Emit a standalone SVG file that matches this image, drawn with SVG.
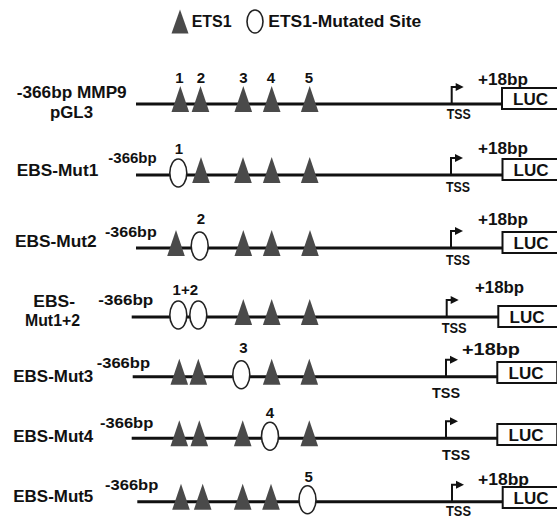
<svg xmlns="http://www.w3.org/2000/svg" xmlns:xlink="http://www.w3.org/1999/xlink" width="557" height="518" viewBox="0 0 557 518">
<style>
text{font-family:"Liberation Sans",Arial,sans-serif;font-weight:bold;fill:#111;}
.lbl{font-size:17px;}
.bp{font-size:15.5px;}
.num{font-size:15px;text-anchor:middle;}
.plus{font-size:17px;}
.tss{font-size:14px;}
.luc{font-size:16px;text-anchor:middle;}
.dna{stroke:#111;stroke-width:3;fill:none;}
.box{fill:#fff;stroke:#111;stroke-width:2;}
.ets{fill:#4a4a4a;}
.mut{fill:#fff;stroke:#222;stroke-width:1.6;}
.arr{stroke:#111;stroke-width:2;fill:none;}
</style>
<defs>
<path id="tri" class="ets" d="M0,-18 L8.8,8 L-8.8,8 Z"/>
<ellipse id="ell" class="mut" cx="0" cy="-2" rx="8.5" ry="14"/>
<g id="tssArrow">
<path class="arr" d="M0,0 V-17 H6"/>
<path d="M4,-21 L12,-17 L4,-13 Z" fill="#111"/>
</g>
</defs>

<g id="legend">
<path class="ets" d="M180,9.5 L188.5,33.5 L171.5,33.5 Z"/>
<text x="191.7" y="27" style="font-size:16px" textLength="40" lengthAdjust="spacingAndGlyphs">ETS1</text>
<ellipse class="mut" cx="255" cy="21.5" rx="8" ry="11.5"/>
<text x="268.3" y="27" style="font-size:16px" textLength="153" lengthAdjust="spacingAndGlyphs">ETS1-Mutated Site</text>
</g>

<g id="row-wt">
<text class="lbl" x="16.7" y="97.7" textLength="110" lengthAdjust="spacingAndGlyphs">-366bp MMP9</text>
<text class="lbl" x="50" y="118" textLength="43" lengthAdjust="spacingAndGlyphs">pGL3</text>
<line class="dna" x1="136" y1="104" x2="503" y2="104"/>
<use xlink:href="#tri" x="180.3" y="104"/>
<use xlink:href="#tri" x="200.5" y="104"/>
<use xlink:href="#tri" x="243.3" y="104"/>
<use xlink:href="#tri" x="271.7" y="104"/>
<use xlink:href="#tri" x="309.7" y="104"/>
<text class="num" x="179.5" y="83">1</text>
<text class="num" x="201" y="83">2</text>
<text class="num" x="243.3" y="83">3</text>
<text class="num" x="271" y="83">4</text>
<text class="num" x="309" y="83">5</text>
<use xlink:href="#tssArrow" x="451.7" y="104"/>
<text class="tss" x="446.7" y="119" textLength="24" lengthAdjust="spacingAndGlyphs">TSS</text>
<text class="plus" x="478" y="85" textLength="50" lengthAdjust="spacingAndGlyphs">+18bp</text>
<rect class="box" x="502" y="88" width="60" height="21"/>
<text class="luc" x="530.5" y="105" textLength="35" lengthAdjust="spacingAndGlyphs">LUC</text>
</g>

<g id="row-mut1">
<text class="lbl" x="16.7" y="175.7" textLength="81.6" lengthAdjust="spacingAndGlyphs">EBS-Mut1</text>
<text class="bp" x="108.3" y="163.3" textLength="48.4" lengthAdjust="spacingAndGlyphs">-366bp</text>
<line class="dna" x1="136" y1="175" x2="503" y2="175"/>
<use xlink:href="#ell" x="178.3" y="175"/>
<use xlink:href="#tri" x="201" y="175"/>
<use xlink:href="#tri" x="243" y="175"/>
<use xlink:href="#tri" x="271.7" y="175"/>
<use xlink:href="#tri" x="309.7" y="175"/>
<text class="num" x="179" y="154">1</text>
<use xlink:href="#tssArrow" x="451" y="175"/>
<text class="tss" x="446" y="192" textLength="24" lengthAdjust="spacingAndGlyphs">TSS</text>
<text class="plus" x="478" y="154" textLength="50" lengthAdjust="spacingAndGlyphs">+18bp</text>
<rect class="box" x="502.5" y="159" width="60" height="21"/>
<text class="luc" x="531" y="176" textLength="35" lengthAdjust="spacingAndGlyphs">LUC</text>
</g>

<g id="row-mut2">
<text class="lbl" x="15" y="247.3" textLength="81.7" lengthAdjust="spacingAndGlyphs">EBS-Mut2</text>
<text class="bp" x="105" y="236.7" textLength="51.7" lengthAdjust="spacingAndGlyphs">-366bp</text>
<line class="dna" x1="136" y1="248" x2="503" y2="248"/>
<use xlink:href="#tri" x="176" y="248"/>
<use xlink:href="#ell" x="199.7" y="248"/>
<use xlink:href="#tri" x="243.3" y="248"/>
<use xlink:href="#tri" x="271.7" y="248"/>
<use xlink:href="#tri" x="310" y="248"/>
<text class="num" x="200.8" y="224">2</text>
<use xlink:href="#tssArrow" x="451" y="248"/>
<text class="tss" x="446" y="265" textLength="24" lengthAdjust="spacingAndGlyphs">TSS</text>
<text class="plus" x="478" y="225" textLength="50" lengthAdjust="spacingAndGlyphs">+18bp</text>
<rect class="box" x="502.5" y="232" width="60" height="21"/>
<text class="luc" x="531" y="249" textLength="35" lengthAdjust="spacingAndGlyphs">LUC</text>
</g>

<g id="row-mut12">
<text class="lbl" x="33.3" y="306.7" textLength="41.7" lengthAdjust="spacingAndGlyphs">EBS-</text>
<text class="lbl" x="25" y="326" textLength="55" lengthAdjust="spacingAndGlyphs">Mut1+2</text>
<text class="bp" x="98.3" y="305" textLength="55" lengthAdjust="spacingAndGlyphs">-366bp</text>
<line class="dna" x1="131.7" y1="317" x2="499" y2="317"/>
<use xlink:href="#ell" x="178.3" y="317"/>
<use xlink:href="#ell" x="198.3" y="317"/>
<use xlink:href="#tri" x="243.3" y="317"/>
<use xlink:href="#tri" x="271.7" y="317"/>
<use xlink:href="#tri" x="309.7" y="317"/>
<text class="num" x="185.3" y="295">1+2</text>
<use xlink:href="#tssArrow" x="446.7" y="317"/>
<text class="tss" x="441.7" y="333" textLength="25" lengthAdjust="spacingAndGlyphs">TSS</text>
<text class="plus" x="475" y="293" textLength="49" lengthAdjust="spacingAndGlyphs">+18bp</text>
<rect class="box" x="498.3" y="306" width="60" height="21"/>
<text class="luc" x="527" y="323" textLength="35" lengthAdjust="spacingAndGlyphs">LUC</text>
</g>

<g id="row-mut3">
<text class="lbl" x="13.3" y="381.7" textLength="80" lengthAdjust="spacingAndGlyphs">EBS-Mut3</text>
<text class="bp" x="96.7" y="368.3" textLength="53.3" lengthAdjust="spacingAndGlyphs">-366bp</text>
<line class="dna" x1="132.7" y1="376.7" x2="498" y2="376.7"/>
<use xlink:href="#tri" x="179.3" y="376.7"/>
<use xlink:href="#tri" x="198.3" y="376.7"/>
<use xlink:href="#ell" x="241.3" y="376.7"/>
<use xlink:href="#tri" x="271.7" y="376.7"/>
<use xlink:href="#tri" x="309.3" y="376.7"/>
<text class="num" x="243.3" y="353.3">3</text>
<use xlink:href="#tssArrow" x="446" y="376.7"/>
<text class="tss" x="432" y="398" textLength="28" lengthAdjust="spacingAndGlyphs">TSS</text>
<text class="plus" x="462" y="355" textLength="58" lengthAdjust="spacingAndGlyphs">+18bp</text>
<rect class="box" x="497.3" y="362" width="60" height="21"/>
<text class="luc" x="526" y="379" textLength="35" lengthAdjust="spacingAndGlyphs">LUC</text>
</g>

<g id="row-mut4">
<text class="lbl" x="13.3" y="441.7" textLength="80" lengthAdjust="spacingAndGlyphs">EBS-Mut4</text>
<text class="bp" x="100" y="428.3" textLength="53.3" lengthAdjust="spacingAndGlyphs">-366bp</text>
<line class="dna" x1="131.7" y1="438.3" x2="498" y2="438.3"/>
<use xlink:href="#tri" x="179.3" y="438.3"/>
<use xlink:href="#tri" x="199.3" y="438.3"/>
<use xlink:href="#tri" x="242.7" y="438.3"/>
<use xlink:href="#ell" x="270" y="438.3"/>
<use xlink:href="#tri" x="309.3" y="438.3"/>
<text class="num" x="270" y="418.3">4</text>
<use xlink:href="#tssArrow" x="446" y="438.3"/>
<text class="tss" x="442" y="460" textLength="28" lengthAdjust="spacingAndGlyphs">TSS</text>
<rect class="box" x="497.3" y="424" width="60" height="21"/>
<text class="luc" x="526" y="441" textLength="35" lengthAdjust="spacingAndGlyphs">LUC</text>
</g>

<g id="row-mut5">
<text class="lbl" x="13.3" y="501.7" textLength="80" lengthAdjust="spacingAndGlyphs">EBS-Mut5</text>
<text class="bp" x="105" y="490" textLength="53.3" lengthAdjust="spacingAndGlyphs">-366bp</text>
<line class="dna" x1="137.3" y1="501.7" x2="503" y2="501.7"/>
<use xlink:href="#tri" x="181" y="501.7"/>
<use xlink:href="#tri" x="202.7" y="501.7"/>
<use xlink:href="#tri" x="242.7" y="501.7"/>
<use xlink:href="#tri" x="271" y="501.7"/>
<use xlink:href="#ell" x="307.5" y="501.7"/>
<text class="num" x="308.7" y="481.7">5</text>
<use xlink:href="#tssArrow" x="452" y="501.7"/>
<text class="tss" x="446" y="515.5" textLength="25" lengthAdjust="spacingAndGlyphs">TSS</text>
<text class="plus" x="478" y="485" textLength="51" lengthAdjust="spacingAndGlyphs">+18bp</text>
<rect class="box" x="502.7" y="487" width="60" height="21"/>
<text class="luc" x="531" y="504" textLength="35" lengthAdjust="spacingAndGlyphs">LUC</text>
</g>
</svg>
